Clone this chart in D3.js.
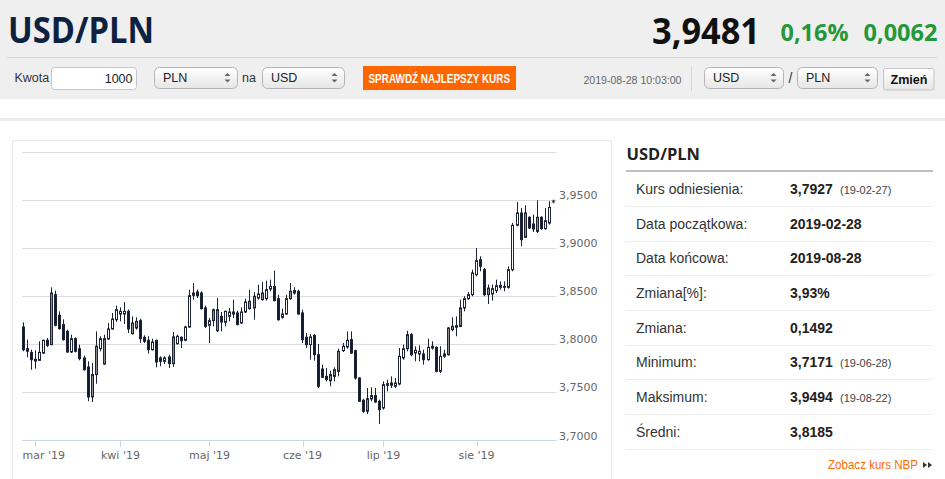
<!DOCTYPE html>
<html>
<head>
<meta charset="utf-8">
<script src="https://cdn.jsdelivr.net/npm/d3@7"></script>
<style>
html, body { margin: 0; padding: 0; background: #fff; overflow: hidden; }
svg { display: block; }
</style>
</head>
<body>
<svg id="page" width="945" height="479"></svg>
<script>
// ---- data ----
var firstDay = Date.UTC(2019, 1, 26), lastDay = Date.UTC(2019, 7, 27);
var open = [3.8178,3.7953,3.7915,3.7843,3.7832,3.7908,3.8040,3.7995,3.8514,3.8300,
  3.8203,3.8133,3.7919,3.8057,3.7953,3.7857,3.7763,3.7452,3.7684,3.7953,
  3.7794,3.8054,3.8158,3.8254,3.8313,3.8313,3.8341,3.8109,3.8168,3.8244,
  3.8071,3.8040,3.7943,3.8040,3.7857,3.7822,3.7867,3.7798,3.8005,3.8071,
  3.8040,3.8178,3.8507,3.8542,3.8531,3.8376,3.8196,3.8244,3.8140,3.8289,
  3.8227,3.8289,3.8334,3.8324,3.8220,3.8334,3.8369,3.8376,3.8479,3.8462,
  3.8472,3.8573,3.8600,3.8472,3.8279,3.8313,3.8472,3.8531,3.8549,3.8324,
  3.8071,3.7995,3.8092,3.7891,3.7742,3.7666,3.7621,3.7666,3.7718,3.7933,
  3.7971,3.8047,3.7933,3.7649,3.7417,3.7303,3.7431,3.7466,3.7407,3.7338,
  3.7573,3.7573,3.7563,3.7587,3.7857,3.7953,3.8099,3.7908,3.7898,3.7898,
  3.7839,3.7960,3.7967,3.7718,3.7874,3.7891,3.8151,3.8175,3.8185,3.8376,
  3.8472,3.8514,3.8722,3.8877,3.8773,3.8514,3.8521,3.8556,3.8590,3.8590,
  3.8590,3.8773,3.9234,3.9362,3.9109,3.9317,3.9247,3.9171,3.9317,3.9199,
  3.9258];
var high = [3.8227,3.8047,3.7943,3.7936,3.8030,3.8047,3.8064,3.8590,3.8556,3.8341,
  3.8258,3.8151,3.8099,3.8071,3.7995,3.7881,3.7822,3.7805,3.8133,3.8082,
  3.8099,3.8220,3.8324,3.8400,3.8382,3.8438,3.8358,3.8289,3.8279,3.8265,
  3.8092,3.8082,3.8057,3.8047,3.7874,3.7874,3.7891,3.8126,3.8099,3.8082,
  3.8192,3.8566,3.8635,3.8566,3.8549,3.8400,3.8272,3.8369,3.8479,3.8334,
  3.8348,3.8376,3.8462,3.8348,3.8382,3.8472,3.8566,3.8542,3.8618,3.8646,
  3.8659,3.8670,3.8763,3.8514,3.8369,3.8514,3.8635,3.8590,3.8566,3.8358,
  3.8116,3.8106,3.8106,3.8002,3.7787,3.7753,3.7725,3.7760,3.7953,3.8012,
  3.8133,3.8133,3.7943,3.7656,3.7434,3.7545,3.7552,3.7545,3.7424,3.7614,
  3.7632,3.7666,3.7649,3.7960,3.7995,3.8140,3.8116,3.7978,3.7988,3.7943,
  3.8057,3.8030,3.7978,3.7978,3.7943,3.8175,3.8279,3.8289,3.8462,3.8497,
  3.8542,3.8773,3.8998,3.8912,3.8791,3.8618,3.8618,3.8670,3.8652,3.8652,
  3.8808,3.9258,3.9476,3.9414,3.9441,3.9327,3.9344,3.9494,3.9327,3.9414,
  3.9483];
var low = [3.7926,3.7863,3.7735,3.7746,3.7829,3.7898,3.7971,3.7988,3.8185,3.8151,
  3.8037,3.7908,3.7908,3.7915,3.7832,3.7725,3.7407,3.7400,3.7590,3.7926,
  3.7787,3.8047,3.8151,3.8230,3.8237,3.8210,3.8116,3.8099,3.8151,3.8012,
  3.8012,3.7902,3.7933,3.7760,3.7770,3.7794,3.7753,3.7763,3.7995,3.7960,
  3.8030,3.8168,3.8462,3.8479,3.8358,3.8168,3.8012,3.8185,3.8126,3.8133,
  3.8185,3.8237,3.8272,3.8196,3.8210,3.8324,3.8358,3.8254,3.8462,3.8452,
  3.8452,3.8549,3.8445,3.8244,3.8265,3.8306,3.8462,3.8514,3.8306,3.8012,
  3.7960,3.7839,3.7829,3.7545,3.7649,3.7614,3.7563,3.7614,3.7666,3.7919,
  3.7953,3.7898,3.7632,3.7400,3.7286,3.7275,3.7407,3.7390,3.7171,3.7320,
  3.7511,3.7545,3.7545,3.7573,3.7839,3.7926,3.7874,3.7822,3.7822,3.7787,
  3.7829,3.7943,3.7708,3.7701,3.7857,3.7881,3.8133,3.8082,3.8175,3.8341,
  3.8462,3.8497,3.8704,3.8756,3.8497,3.8417,3.8452,3.8531,3.8566,3.8549,
  3.8576,3.8756,3.9223,3.9016,3.9102,3.9196,3.9164,3.9154,3.9189,3.9189,
  3.9241];
var close = [3.7943,3.7927,3.7839,3.7825,3.7915,3.8040,3.7988,3.8531,3.8196,3.8161,
  3.8047,3.7919,3.8057,3.7926,3.7850,3.7735,3.7452,3.7684,3.7978,3.8057,
  3.8057,3.8158,3.8261,3.8358,3.8341,3.8341,3.8158,3.8220,3.8237,3.8057,
  3.8030,3.7943,3.8023,3.7815,3.7822,3.7857,3.7798,3.8075,3.8082,3.8037,
  3.8178,3.8504,3.8531,3.8504,3.8369,3.8185,3.8244,3.8358,3.8358,3.8230,
  3.8341,3.8334,3.8313,3.8203,3.8334,3.8438,3.8445,3.8497,3.8521,3.8531,
  3.8566,3.8600,3.8452,3.8254,3.8313,3.8472,3.8549,3.8556,3.8313,3.8047,
  3.7995,3.8075,3.7891,3.7563,3.7656,3.7632,3.7684,3.7735,3.7926,3.7978,
  3.8040,3.7908,3.7649,3.7407,3.7303,3.7434,3.7466,3.7400,3.7320,3.7580,
  3.7590,3.7597,3.7597,3.7874,3.7953,3.8099,3.7891,3.7936,3.7926,3.7839,
  3.7967,3.7978,3.7718,3.7874,3.7898,3.8168,3.8185,3.8192,3.8376,3.8472,
  3.8514,3.8739,3.8867,3.8808,3.8514,3.8583,3.8576,3.8607,3.8611,3.8600,
  3.8773,3.9234,3.9362,3.9085,3.9362,3.9206,3.9196,3.9317,3.9199,3.9282,
  3.9419];
// up candles the source paints grey instead of white
var greyIdx = [7,17,18,20,27,28,37,47,48,56,57,59,66,76,77,78,85,95,105,106,108,115,124,127];
var lastPrice = 3.9481;
var yTicks = [3.70, 3.75, 3.80, 3.85, 3.90, 3.95, 4.00];
var monthNames = ["sty","lut","mar","kwi","maj","cze","lip","sie","wrz","paź","lis","gru"];

var statLabels = ["Kurs odniesienia:", "Data początkowa:", "Data końcowa:", "Zmiana[%]:", "Zmiana:", "Minimum:", "Maksimum:", "Średni:"];
var statValues = ["3,7927", "2019-02-28", "2019-08-28", "3,93%", "0,1492", "3,7171", "3,9494", "3,8185"];
var statDates  = ["(19-02-27)", "", "", "", "", "(19-06-28)", "(19-08-22)", ""];

// ---- page ----
var svg = d3.select("#page");
var fmt = d3.format(".4f");
var pl = function(v) { return fmt(v).replace(".", ","); };
var arial = "'Liberation Sans', Arial, sans-serif";

var defs = svg.append("defs");
var gr = defs.append("linearGradient").attr("id", "sel").attr("x1", 0).attr("y1", 0).attr("x2", 0).attr("y2", 1);
gr.append("stop").attr("offset", "0%").attr("stop-color", "#ffffff");
gr.append("stop").attr("offset", "100%").attr("stop-color", "#e6e6e6");

// header band
svg.append("rect").attr("x", 0).attr("y", 0).attr("width", 945).attr("height", 99).attr("fill", "#efefef");
svg.append("rect").attr("x", 0).attr("y", 118).attr("width", 945).attr("height", 3).attr("fill", "#ececec");
svg.append("line").attr("x1", 7).attr("x2", 937).attr("y1", 57.5).attr("y2", 57.5).attr("stroke", "#d6d6d6");

svg.append("text").attr("x", 8).attr("y", 43).attr("textLength", 146).attr("lengthAdjust", "spacingAndGlyphs")
  .style("font", "700 35px 'Open Sans', sans-serif").attr("fill", "#0d2240").text("USD/PLN");
svg.append("text").attr("x", 652).attr("y", 43.5).attr("textLength", 108).attr("lengthAdjust", "spacingAndGlyphs")
  .style("font", "700 35px 'Open Sans', sans-serif").attr("fill", "#111").text("3,9481");
svg.append("text").attr("x", 780.5).attr("y", 41).attr("textLength", 68).attr("lengthAdjust", "spacingAndGlyphs")
  .style("font", "700 23px 'Open Sans', sans-serif").attr("fill", "#25973b").text("0,16%");
svg.append("text").attr("x", 863.5).attr("y", 41).attr("textLength", 74).attr("lengthAdjust", "spacingAndGlyphs")
  .style("font", "700 23px 'Open Sans', sans-serif").attr("fill", "#25973b").text("0,0062");

function label(x, y, t, size, col, anchor, weight) {
  return svg.append("text").attr("x", x).attr("y", y).attr("text-anchor", anchor || "start")
    .style("font", (weight || 400) + " " + size + "px " + arial).attr("fill", col).text(t);
}
function selectBox(x, y, w, t) {
  svg.append("rect").attr("x", x + 0.5).attr("y", y + 0.5).attr("width", w).attr("height", 21).attr("rx", 5)
    .attr("fill", "url(#sel)").attr("stroke", "#b4b4b4");
  label(x + 9, y + 15, t, 12.5, "#222");
  var cx = x + w - 9.5;
  svg.append("path").attr("d", "M" + (cx - 3) + "," + (y + 9) + "L" + (cx + 3) + "," + (y + 9) + "L" + cx + "," + (y + 6) + "Z").attr("fill", "#666");
  svg.append("path").attr("d", "M" + (cx - 3) + "," + (y + 12.5) + "L" + (cx + 3) + "," + (y + 12.5) + "L" + cx + "," + (y + 15.5) + "Z").attr("fill", "#666");
}

label(14.5, 82, "Kwota", 12.5, "#333");
svg.append("rect").attr("x", 51.5).attr("y", 67.5).attr("width", 85).attr("height", 22).attr("rx", 3)
  .attr("fill", "#fff").attr("stroke", "#c6c6c6");
label(132.5, 82.5, "1000", 12.5, "#222", "end");
selectBox(154, 67, 83, "PLN");
label(242, 82, "na", 12.5, "#333");
selectBox(262, 67, 82, "USD");
svg.append("rect").attr("x", 363).attr("y", 66).attr("width", 153).attr("height", 24).attr("fill", "#ff6600");
svg.append("text").attr("x", 368.5).attr("y", 82.5).attr("textLength", 141.5).attr("lengthAdjust", "spacingAndGlyphs")
  .style("font", "700 12px " + arial).attr("fill", "#fff").text("SPRAWDŹ NAJLEPSZY KURS");

svg.append("text").attr("x", 583.5).attr("y", 84).attr("textLength", 98).attr("lengthAdjust", "spacingAndGlyphs")
  .style("font", "400 11.5px " + arial).attr("fill", "#666").text("2019-08-28 10:03:00");
svg.append("line").attr("x1", 691.5).attr("x2", 691.5).attr("y1", 66).attr("y2", 91).attr("stroke", "#d5d5d5");
selectBox(704, 67, 79, "USD");
label(788.5, 83, "/", 14, "#333");
selectBox(797, 67, 80, "PLN");
svg.append("rect").attr("x", 883.5).attr("y", 68.5).attr("width", 50.5).attr("height", 21.5).attr("rx", 2)
  .attr("fill", "url(#sel)").attr("stroke", "#c4c4c4");
svg.append("text").attr("x", 890.5).attr("y", 83.5).attr("textLength", 37).attr("lengthAdjust", "spacingAndGlyphs")
  .style("font", "700 12.5px " + arial).attr("fill", "#111").text("Zmień");

// chart box
svg.append("path").attr("d", "M12.5,479V140.5H611.5V479").attr("fill", "none").attr("stroke", "#e6e6e6");

// ---- candlestick chart ----
var days = d3.utcDays(new Date(firstDay), new Date(lastDay + 864e5))
  .filter(function(d) { return d.getUTCDay() % 6 !== 0; });
var candles = days.map(function(d, i) {
  return { date: d, i: i, o: open[i], h: high[i], l: low[i], c: close[i], grey: greyIdx.indexOf(i) >= 0 };
});

var x = d3.scaleLinear().domain([-0.33, 131.75]).range([22, 556.5]);
var y = d3.scaleLinear().domain([3.70, 4.00]).range([440.5, 151.5]);

var chart = svg.append("g");
chart.selectAll(".grid").data(yTicks.slice(1)).enter().append("line")
  .attr("x1", 22).attr("x2", 556.5)
  .attr("y1", function(d) { return Math.round(y(d)) + 0.5; })
  .attr("y2", function(d) { return Math.round(y(d)) + 0.5; })
  .attr("stroke", "#dcdcdc");
chart.append("line").attr("x1", 22).attr("x2", 556.5).attr("y1", 440.5).attr("y2", 440.5).attr("stroke", "#ccd6eb");

chart.selectAll(".ylab").data(yTicks.slice(0, -1)).enter().append("text")
  .attr("x", 559).attr("y", function(d) { return Math.round(y(d)) - 1.5; })
  .style("font", "400 11px 'DejaVu Sans', sans-serif").attr("fill", "#666")
  .text(function(d) { return pl(d); });

var monthStarts = candles.filter(function(c, i) {
  return i > 0 && c.date.getUTCMonth() !== candles[i - 1].date.getUTCMonth();
});
chart.selectAll(".xtick").data(monthStarts).enter().append("line")
  .attr("x1", function(d) { return Math.round(x(d.i)) + 0.5; })
  .attr("x2", function(d) { return Math.round(x(d.i)) + 0.5; })
  .attr("y1", 440.5).attr("y2", 447).attr("stroke", "#ccd6eb");
chart.selectAll(".xlab").data(monthStarts).enter().append("text")
  .attr("y", 458.5)
  .style("font", "400 11px 'DejaVu Sans', sans-serif").attr("fill", "#666")
  .text(function(d) { return monthNames[d.date.getUTCMonth()] + " '" + String(d.date.getUTCFullYear()).slice(2); })
  .each(function(d) {
    var w = this.getComputedTextLength(), cx = x(d.i);
    d3.select(this).attr("x", Math.max(22.5, cx - w / 2));
  });

var cg = chart.selectAll(".candle").data(candles).enter().append("g");
cg.append("line")
  .attr("x1", function(d) { return Math.floor(x(d.i)) + 0.5; })
  .attr("x2", function(d) { return Math.floor(x(d.i)) + 0.5; })
  .attr("y1", function(d) { return y(d.h); })
  .attr("y2", function(d) { return y(d.l); })
  .attr("stroke", "#1b2335");
cg.append("rect")
  .attr("x", function(d) { return Math.floor(x(d.i)) - 0.5; })
  .attr("width", 2)
  .attr("y", function(d) { return y(Math.max(d.o, d.c)); })
  .attr("height", function(d) { return Math.max(1, y(Math.min(d.o, d.c)) - y(Math.max(d.o, d.c))); })
  .attr("fill", function(d) { return d.c < d.o ? "#0e1a30" : (d.grey ? "#8c8c8c" : "#ffffff"); })
  .attr("stroke", "#1b2335");

// last quote marker
chart.append("path")
  .attr("transform", "translate(" + x(candles.length) + "," + y(lastPrice) + ")")
  .attr("d", d3.symbol(d3.symbolAsterisk, 10)()).attr("stroke", "#222").attr("stroke-width", 0.8).attr("fill", "none");

// ---- stats panel ----
svg.append("text").attr("x", 626.5).attr("y", 159.5).attr("textLength", 73.5).attr("lengthAdjust", "spacingAndGlyphs")
  .style("font", "700 16px 'Open Sans', sans-serif").attr("fill", "#222").text("USD/PLN");
svg.append("rect").attr("x", 626).attr("y", 170).attr("width", 307).attr("height", 2).attr("fill", "#bfbfbf");

var rowY = d3.scaleLinear().domain([0, 1]).range([194, 228.67]);
var rows = svg.selectAll(".row").data(statLabels).enter().append("g");
rows.append("line").attr("x1", 626).attr("x2", 933)
  .attr("y1", function(d, i) { return Math.round(rowY(i) + 12) + 0.5; })
  .attr("y2", function(d, i) { return Math.round(rowY(i) + 12) + 0.5; })
  .attr("stroke", "#ececec");
rows.append("text").attr("x", 636).attr("y", function(d, i) { return rowY(i); })
  .style("font", "400 14px " + arial).attr("fill", "#333").text(function(d) { return d; });
rows.append("text").attr("x", 790).attr("y", function(d, i) { return rowY(i); })
  .style("font", "700 14px " + arial).attr("fill", "#222").text(function(d, i) { return statValues[i]; });
rows.append("text").attr("x", 840).attr("y", function(d, i) { return rowY(i); })
  .style("font", "400 11px " + arial).attr("fill", "#444").text(function(d, i) { return statDates[i]; });

svg.append("text").attr("x", 828).attr("y", 469).attr("textLength", 90).attr("lengthAdjust", "spacingAndGlyphs")
  .style("font", "400 12.5px " + arial).attr("fill", "#ff6a00").text("Zobacz kurs NBP");
[923, 928].forEach(function(ax) {
  svg.append("path").attr("d", "M" + ax + ",462L" + (ax + 4) + ",465L" + ax + ",468Z").attr("fill", "#333");
});
</script>
</body>
</html>
